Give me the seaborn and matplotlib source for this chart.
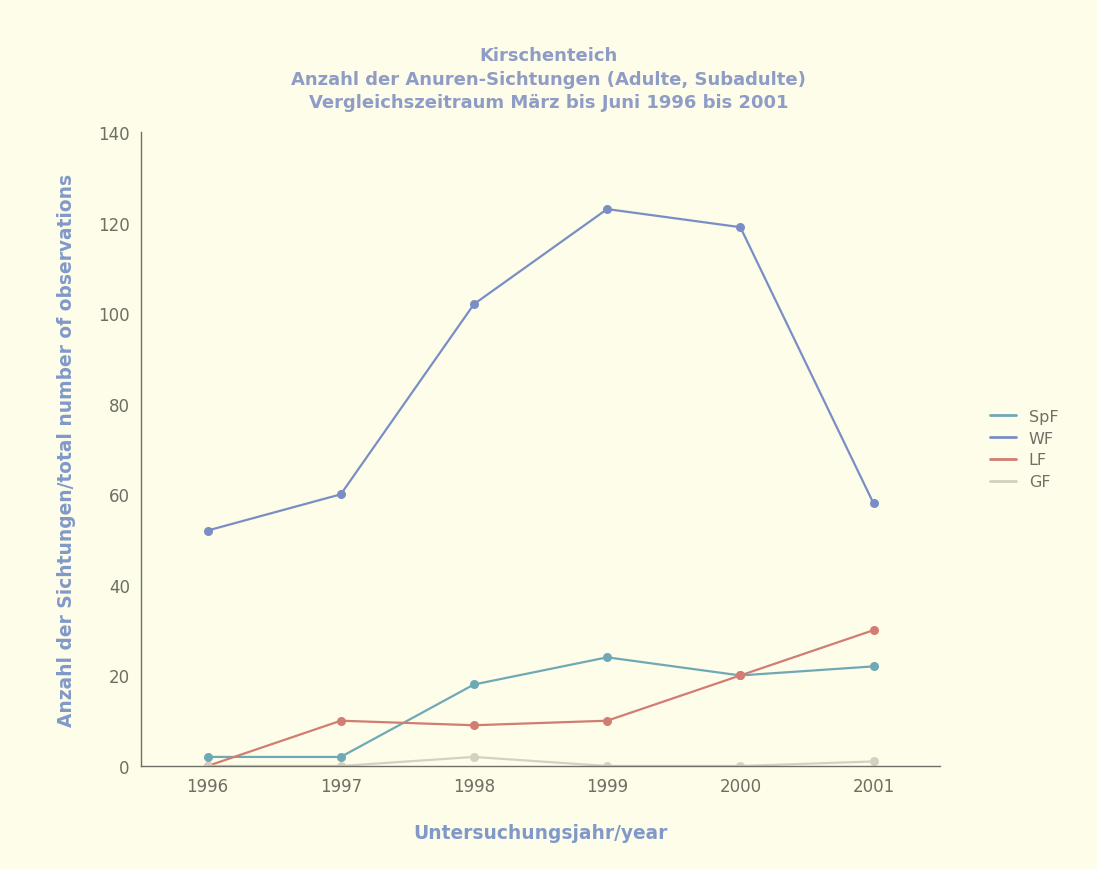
import matplotlib
matplotlib.use("Agg")
import matplotlib.pyplot as plt
import seaborn as sns
import pandas as pd

years = [1996, 1997, 1998, 1999, 2000, 2001]
spf = [2, 2, 18, 24, 20, 22]
wf = [52, 60, 102, 123, 119, 58]
lf = [0, 10, 9, 10, 20, 30]
gf = [0, 0, 2, 0, 0, 1]
series_names = ["SpF", "WF", "LF", "GF"]
colors = ["#6fa9b6", "#7a8ec6", "#d27c72", "#d3d2c0"]

rows = []
for name, vals in zip(series_names, [spf, wf, lf, gf]):
	for y, v in zip(years, vals):
		rows.append((y, v, name))
data = pd.DataFrame(rows, columns=["year", "count", "art"])

bg = "#fdfde9"
sns.set_theme(style="white")
plt.rcParams["font.family"] = ["DejaVu Sans"]

fig = plt.figure(figsize=(10.97, 8.7), dpi=100, facecolor=bg)
ax = fig.add_axes([0.1285, 0.1184, 0.7285, 0.7286])
ax.set_facecolor(bg)

sns.lineplot(data=data, x="year", y="count", hue="art", hue_order=series_names,
	palette=colors, marker="o", markersize=6.5, markeredgewidth=0, linewidth=1.6,
	dashes=False, ax=ax)

ax.set_xlim(1995.5, 2001.5)
ax.set_ylim(0, 140)
ax.set_xticks(years)
ax.set_yticks(range(0, 141, 20))
ax.tick_params(axis="both", labelsize=12, labelcolor="#6e6e62", length=0, pad=8)

for side in ["top", "right"]:
	ax.spines[side].set_visible(False)
for side in ["left", "bottom"]:
	ax.spines[side].set_color("#707066")
	ax.spines[side].set_linewidth(1.0)

ax.set_xlabel("Untersuchungsjahr/year", fontsize=13.4, fontweight="bold", color="#8199c9", labelpad=20)
ax.set_ylabel("Anzahl der Sichtungen/total number of observations", fontsize=13.4, fontweight="bold",
	color="#8199c9", labelpad=16)

fig.text(0.5, 0.9085, "Kirschenteich\nAnzahl der Anuren-Sichtungen (Adulte, Subadulte)\nVergleichszeitraum März bis Juni 1996 bis 2001",
	ha="center", va="center", fontsize=13, fontweight="bold", color="#8e9cc6", linespacing=1.42)

leg = ax.legend(loc="center left", bbox_to_anchor=(1.045, 0.5), frameon=False, fontsize=11.5,
	handlelength=1.6, labelspacing=0.42, title=None)
for t in leg.get_texts():
	t.set_color("#707066")
for h in leg.get_lines():
	h.set_marker("")
	h.set_linewidth(2)

fig.savefig("out.png", dpi=100, facecolor=bg)
